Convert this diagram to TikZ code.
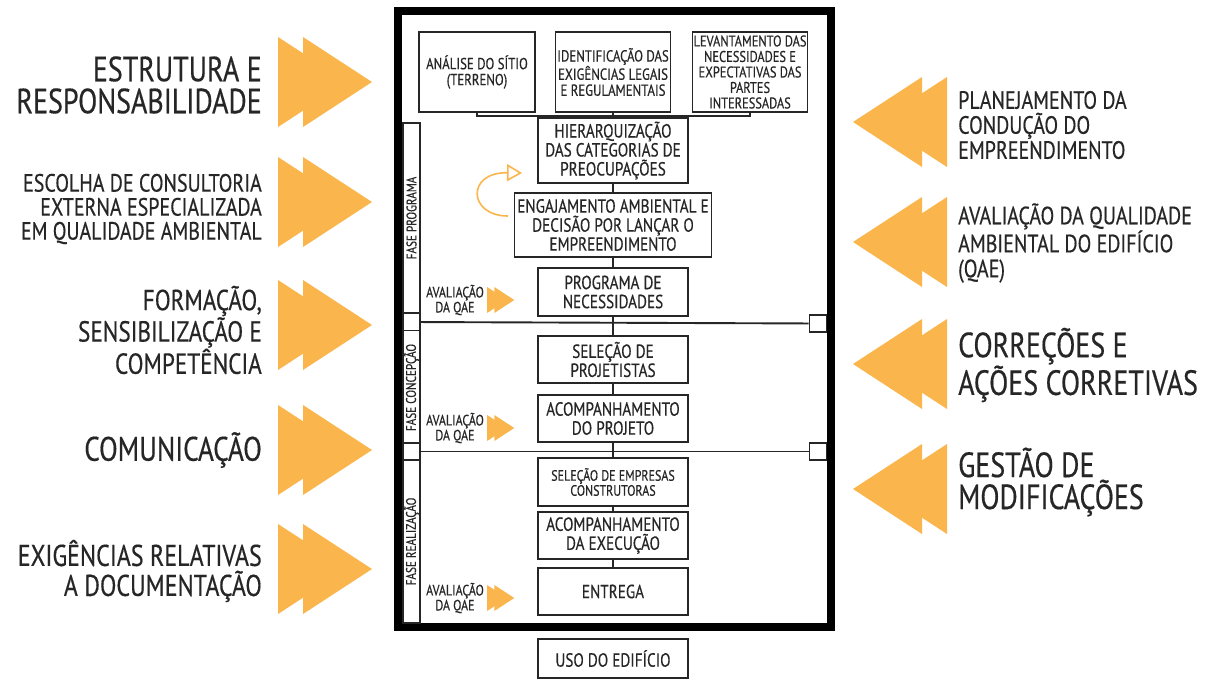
\documentclass[tikz,border=0pt]{standalone}
\usepackage{fontspec}
\setmainfont{PT Sans}[FakeStretch=0.8, FakeBold=0.4]
\usetikzlibrary{arrows.meta}

\definecolor{qaeorange}{RGB}{250,182,76}
\definecolor{ink}{RGB}{38,38,38}

\tikzset{
  etapa/.style={draw=ink, line width=1.9pt, align=center, inner sep=1pt, text=ink,
    font=\fontsize{19}{19}\selectfont},
  etapatopo/.style={etapa, font=\fontsize{16}{16}\selectfont},
  fase/.style={draw=ink, line width=1.6pt, rotate=90, minimum height=17, inner sep=0pt,
    text=ink, font=\fontsize{14}{14}\selectfont},
  marco/.style={draw=ink, line width=1.9pt, minimum size=17, inner sep=0pt, fill=white},
  liga/.style={draw=ink, line width=1.9pt},
  avalia/.style={align=center, inner sep=0pt, text=ink, font=\fontsize{15}{15}\selectfont},
  esq/.style={anchor=east, align=right, inner sep=0pt, text=ink},
  dir/.style={anchor=west, align=left, inner sep=0pt, text=ink},
  grande/.style={font=\fontsize{35}{32}\selectfont},
  duplaseta/.pic={
    \fill[qaeorange] (0,-45) -- (69,0) -- (0,45) -- cycle;
    \fill[qaeorange] (25,-45) -- (94,0) -- (25,45) -- cycle;
  }
}

\begin{document}
\begin{tikzpicture}[x=1pt, y=-1pt]
\useasboundingbox (0,0) rectangle (1222,680);
\fill[white] (0,0) rectangle (1222,680);

% moldura
\draw[line width=8pt] (398,11) rectangle (831,627);

% etapas
\node[etapatopo, minimum width=116, minimum height=80] (sitio) at (477,72) {ANÁLISE DO SÍTIO\\(TERRENO)};
\node[etapatopo, minimum width=115, minimum height=80] (exig) at (613,72) {IDENTIFICAÇÃO DAS\\EXIGÊNCIAS LEGAIS\\E REGULAMENTAIS};
\node[etapatopo, minimum width=115, minimum height=80, font=\fontsize{15.5}{15.5}\selectfont] (partes) at (750,72) {LEVANTAMENTO DAS\\NECESSIDADES E\\EXPECTATIVAS DAS\\PARTES\\INTERESSADAS};
\node[etapa, minimum width=150, minimum height=65] (hier) at (613,150.5) {HIERARQUIZAÇÃO\\DAS CATEGORIAS DE\\PREOCUPAÇÕES};
\node[etapa, minimum width=197, minimum height=64] (engaj) at (613,225) {ENGAJAMENTO AMBIENTAL E\\DECISÃO POR LANÇAR O\\EMPREENDIMENTO};
\node[etapa, minimum width=150, minimum height=48] (prog) at (613,292) {PROGRAMA DE\\NECESSIDADES};
\node[etapa, minimum width=150, minimum height=47] (projet) at (613,359.5) {SELEÇÃO DE\\PROJETISTAS};
\node[etapa, minimum width=150, minimum height=47] (acproj) at (613,418.5) {ACOMPANHAMENTO\\DO PROJETO};
\node[etapa, minimum width=150, minimum height=48, font=\fontsize{15}{15}\selectfont] (empresas) at (613,482) {SELEÇÃO DE EMPRESAS\\CONSTRUTORAS};
\node[etapa, minimum width=150, minimum height=47] (acexec) at (613,535.5) {ACOMPANHAMENTO\\DA EXECUÇÃO};
\node[etapa, minimum width=150, minimum height=47] (entrega) at (613,591.5) {ENTREGA};
\node[etapa, minimum width=150, minimum height=39] (uso) at (613,658.5) {USO DO EDIFÍCIO};

% ligacoes
\coordinate (brk) at (613,116);
\draw[liga] (sitio.south) |- (brk) -| (partes.south);
\draw[liga] (exig.south) -- (hier.north);
\draw[liga] (hier) -- (engaj);
\draw[liga] (engaj) -- (prog);
\draw[liga] (prog) -- (projet);
\draw[liga] (projet) -- (acproj);
\draw[liga] (acproj) -- (empresas);
\draw[liga] (empresas) -- (acexec);
\draw[liga] (acexec) -- (entrega);

% fases
\node[fase, minimum width=190] (fprog) at (411.5,218) {FASE PROGRAMA};
\node[fase, minimum width=115] (fconc) at (411.5,387.5) {FASE CONCEPÇÃO};
\node[fase, minimum width=163] (freal) at (411.5,541.5) {FASE REALIZAÇÃO};

\node[marco] (mL1) at (411.5,322) {};
\node[marco] (mR1) at (818,323.5) {};
\node[marco] (mL2) at (411.5,451.5) {};
\node[marco] (mR2) at (818,451.5) {};
\draw[liga] (mL1) -- (mR1);
\draw[liga] (mL2) -- (mR2);

% avaliacao da QAE
\node[avalia] (aval1) at (455,300) {AVALIAÇÃO\\DA QAE};
\node[avalia] (aval2) at (455,428) {AVALIAÇÃO\\DA QAE};
\node[avalia] (aval3) at (455,598) {AVALIAÇÃO\\DA QAE};
\pic[scale=0.29] at (487,300) {duplaseta};
\pic[scale=0.29] at (487,428) {duplaseta};
\pic[scale=0.29] at (487,598) {duplaseta};

% ciclo
\draw[qaeorange, line width=1.6pt, -{Triangle[open, length=15pt, width=17pt, fill=white]}]
  (508,216) .. controls (468,216) and (466,172) .. (522,173);

% lado esquerdo
\pic at (278,82) {duplaseta};
\pic at (278,202) {duplaseta};
\pic at (278,325) {duplaseta};
\pic at (278,450) {duplaseta};
\pic at (278,569) {duplaseta};
\node[esq, grande] (tEstrutura) at (262,85) {ESTRUTURA E\\RESPONSABILIDADE};
\node[esq, font=\fontsize{25}{24}\selectfont] (tEscolha) at (262,209) {ESCOLHA DE CONSULTORIA\\EXTERNA ESPECIALIZADA\\EM QUALIDADE AMBIENTAL};
\node[esq, font=\fontsize{29}{27}\selectfont] (tFormacao) at (262,330) {FORMAÇÃO,\\SENSIBILIZAÇÃO E\\COMPETÊNCIA};
\node[esq, font=\fontsize{34}{34}\selectfont] (tComunic) at (262,450) {COMUNICAÇÃO};
\node[esq, font=\fontsize{30}{30}\selectfont] (tExig) at (262,571) {EXIGÊNCIAS RELATIVAS\\A DOCUMENTAÇÃO};

% lado direito
\pic[xscale=-1] at (947,122) {duplaseta};
\pic[xscale=-1] at (947,242) {duplaseta};
\pic[xscale=-1] at (947,364) {duplaseta};
\pic[xscale=-1] at (947,489) {duplaseta};
\node[dir, font=\fontsize{25}{25}\selectfont] (tPlanej) at (958,125) {PLANEJAMENTO DA\\CONDUÇÃO DO\\EMPREENDIMENTO};
\node[dir, font=\fontsize{25}{25}\selectfont] (tAvalia) at (958,243) {AVALIAÇÃO DA QUALIDADE\\AMBIENTAL DO EDIFÍCIO\\(QAE)};
\node[dir, grande] (tCorrec) at (958,365) {CORREÇÕES E\\AÇÕES CORRETIVAS};
\node[dir, grande] (tGestao) at (958,482) {GESTÃO DE\\MODIFICAÇÕES};
\end{tikzpicture}
\end{document}
